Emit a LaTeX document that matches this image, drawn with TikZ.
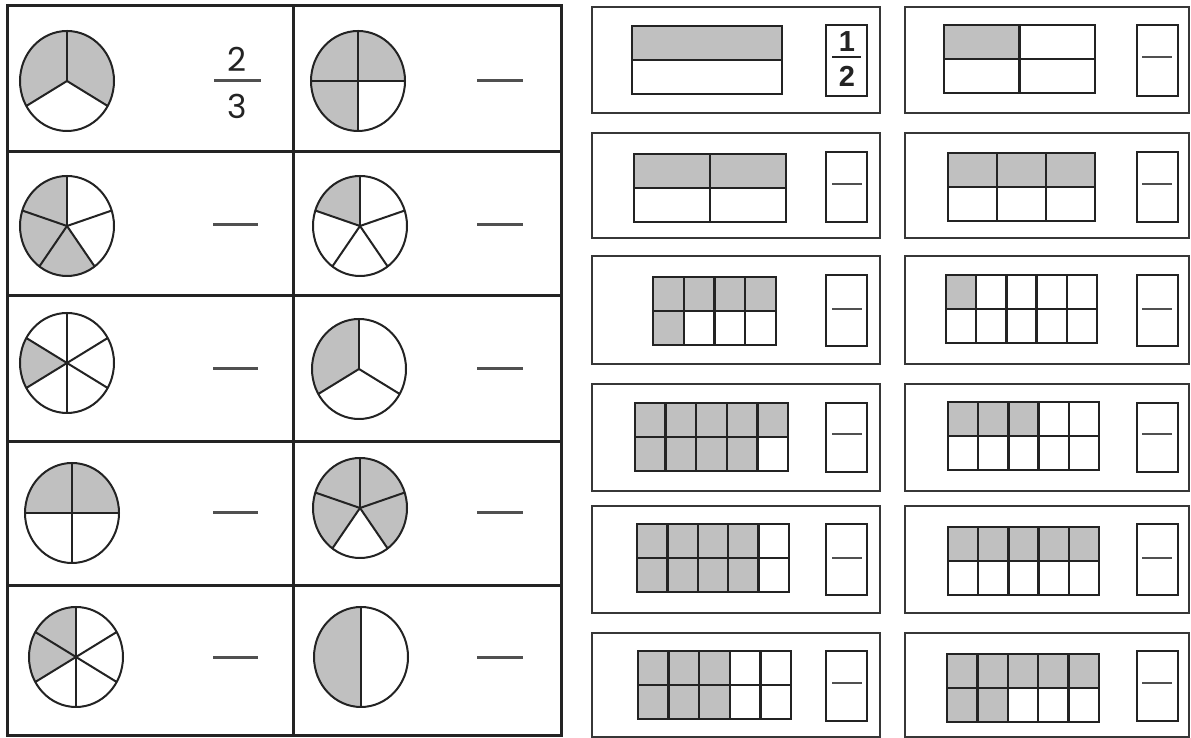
\documentclass[tikz,border=0pt]{standalone}
\usepackage{fontspec}
\usepackage{xcolor}
\usepackage{tikz}
\newfontfamily\gothicfont{Poppins}
\newfontfamily\arialfont{Liberation Sans}
\definecolor{SheetInk}{RGB}{35, 35, 35}
\definecolor{SheetFrame}{RGB}{55, 55, 55}
\definecolor{SheetShade}{RGB}{192, 192, 192}
\definecolor{SheetDash}{RGB}{80, 80, 80}

\begin{document}
\begin{tikzpicture}[x=1pt,y=1pt,
    tableline/.style={SheetInk, line width=3pt},
    pieline/.style={SheetInk, line width=2pt},
    pieshade/.style={SheetShade},
    gridline/.style={SheetInk, line width=2.4pt},
    cellshade/.style={SheetShade},
    framebox/.style={SheetFrame, line width=2.6pt},
    answerbox/.style={SheetInk, line width=2.4pt},
    blankline/.style={SheetDash, line width=3pt},
    gothicnum/.style={inner sep=0pt, font=\gothicfont\fontsize{33}{36}\selectfont, text=SheetInk},
    boldnum/.style={inner sep=0pt, font=\arialfont\bfseries\fontsize{29}{32}\selectfont, text=SheetInk}]
  \path[use as bounding box] (0,0) rectangle (1191,738);
  \fill[white] (0,0) rectangle (1191,738);

  % Left sheet: pies (centre x / centre y / parts / first shaded angle / shaded parts)
  \foreach \cx/\cy/\parts/\s/\k in {67/657/3/-30/2, 67/512/5/90/3, 67/375/6/150/1,
      72/225/4/0/2, 76/81/6/90/2, 358/657/4/0/3, 360/512/5/90/1,
      359/369/3/90/1, 360/230/5/306/4, 361/81/2/90/1} {
    \pgfmathsetmacro\e{\s+\k*360/\parts}
    \fill[pieshade] (\cx,\cy) -- ++(\s:47 and 50)
      arc[start angle=\s, end angle=\e, x radius=47, y radius=50] -- cycle;
    \foreach \i in {1,...,\parts}
      \draw[pieline] (\cx,\cy) -- ++({90+\i*360/\parts}:47 and 50);
    \draw[pieline] (\cx,\cy) ellipse[x radius=47, y radius=50];
  }

  % Left sheet: table
  \draw[tableline] (7,2) rectangle (561,732);
  \draw[tableline] (293,2) -- (293,732);
  \foreach \ry in {586,442,296,152}
    \draw[tableline] (7,\ry) -- (561,\ry);

  % 2/3 and the blanks
  \node[gothicnum] (twoThirdsNum) at (237,679) {2};
  \node[gothicnum] (twoThirdsDen) at (237,632) {3};
  \draw[SheetDash, line width=3pt] (214,657) -- (261,657);
  \foreach \ry in {513,369,225,80}
    \draw[blankline] (213,\ry) -- (258,\ry);
  \foreach \ry in {657,513,369,225,80}
    \draw[blankline] (477,\ry) -- (523,\ry);

  % Right sheet: frames and answer boxes (bottom / top)
  \foreach \by/\ty/\fy/\gy/\dy in {625/731/642/713/681, 500/605/516/586/554,
      374/482/392/463/429, 247/354/266/335/304, 125/232/143/214/180, 1/105/17/87/55} {
    \draw[framebox] (592,\by) rectangle (880,\ty);
    \draw[framebox] (905,\by) rectangle (1189,\ty);
    \draw[answerbox] (826,\fy) rectangle (867,\gy);
    \draw[answerbox] (1137,\fy) rectangle (1178,\gy);
    \draw[blankline, line width=2.4pt] (1142,\dy) -- (1172,\dy);
  }
  \foreach \dy in {554,429,304,180,55}
    \draw[blankline, line width=2.4pt] (832,\dy) -- (862,\dy);

  % 1/2 in the first answer box
  \node[boldnum] (halfNum) at (847,696) {1};
  \node[boldnum] (halfDen) at (847,662) {2};
  \draw[SheetInk, line width=2pt] (832,681) -- (861,681);

  % Right sheet: bars (left x / bottom y / width / columns / shaded top / shaded bottom)
  \foreach \gx/\gy/\w/\cols/\up/\dn in {632/644/150/1/1/0, 634/516/152/2/2/0,
      653/393/123/4/4/1, 635/267/153/5/5/4, 637/146/152/5/4/4, 638/19/153/5/3/3,
      944/645/151/2/1/0, 948/517/147/3/3/0, 946/395/151/5/1/0,
      948/268/151/5/3/0, 948/143/151/5/5/0, 947/16/152/5/5/2} {
    \fill[cellshade] (\gx,\gy+34) rectangle ({\gx+\up*\w/\cols},\gy+68);
    \fill[cellshade] (\gx,\gy) rectangle ({\gx+\dn*\w/\cols},\gy+34);
    \draw[gridline] (\gx,\gy) rectangle (\gx+\w,\gy+68);
    \draw[gridline] (\gx,\gy+34) -- (\gx+\w,\gy+34);
    \foreach \j in {1,...,\cols}
      \draw[gridline] ({\gx+\j*\w/\cols},\gy) -- ({\gx+\j*\w/\cols},\gy+68);
  }
\end{tikzpicture}
\end{document}
